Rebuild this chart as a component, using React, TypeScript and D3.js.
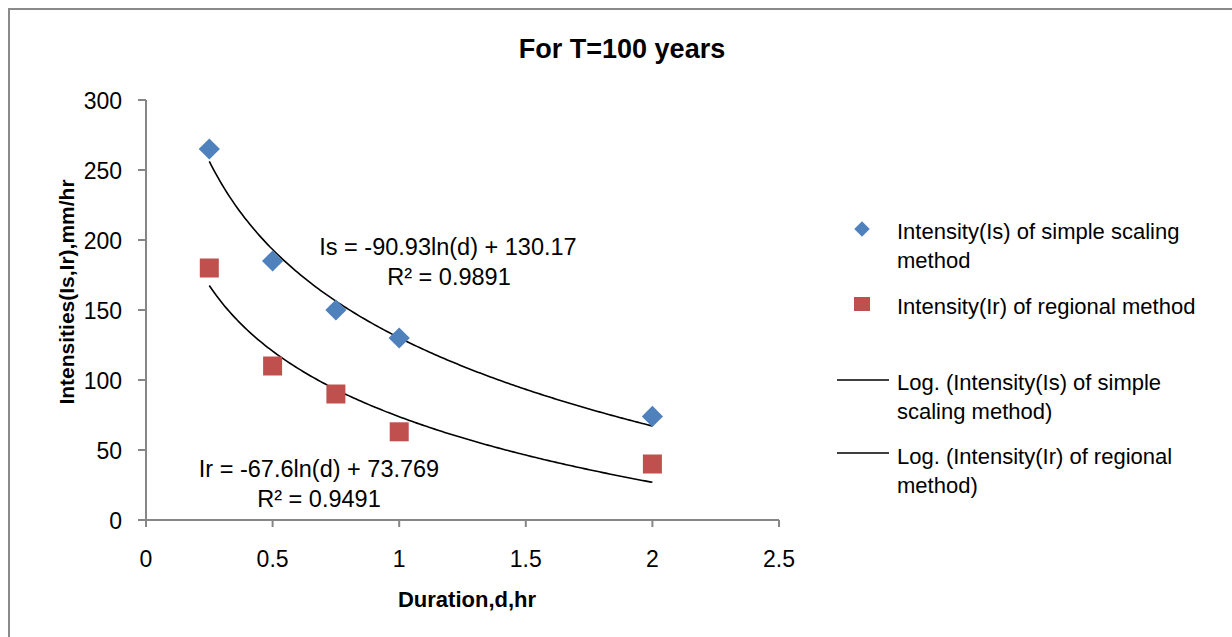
import React from "react";
import * as d3 from "d3";

const durations = [0.25, 0.5, 0.75, 1, 2];
const intensityIs = [265, 185, 150, 130, 74];
const intensityIr = [180, 110, 90, 63, 40];
const fitIs = { a: -90.93, b: 130.17 };
const fitIr = { a: -67.6, b: 73.769 };
const yTicks = [0, 50, 100, 150, 200, 250, 300];
const xTicks = [0, 0.5, 1, 1.5, 2, 2.5];
const xTickLabels = ["0", "0.5", "1", "1.5", "2", "2.5"];

const FONT = "'Liberation Sans', Arial, sans-serif";
const BLUE = "#4F81BD";
const RED = "#C0504D";
const AXIS = "#868686";

export default function App() {
  const x = d3.scaleLinear().domain([0, 2.5]).range([146, 779]);
  const y = d3.scaleLinear().domain([0, 300]).range([520, 100]);

  const fitPts = d3.range(0, 176).map((i) => 0.25 + (i * 1.75) / 175);
  const line = d3
    .line<number>()
    .x((d) => x(d))
    .curve(d3.curveLinear);
  const pathIs = line.y((d) => y(fitIs.a * Math.log(d) + fitIs.b))(fitPts) || "";
  const pathIr = line.y((d) => y(fitIr.a * Math.log(d) + fitIr.b))(fitPts) || "";

  const diamond = d3.symbol().type(d3.symbolSquare).size(15 * 15)();
  const legendX = 897;

  return (
    <svg
      width={1232}
      height={637}
      style={{ position: "absolute", left: 0, top: 0, background: "#fff" }}
      fontFamily={FONT}
    >
      <rect x={0} y={0} width={1232} height={637} fill="#fff" />
      <path d="M9,660 L9,9 L1260,9" fill="none" stroke="#8a8a8a" strokeWidth={2} />

      <text x={622} y={58} textAnchor="middle" fontSize={27} fontWeight="bold">
        For T=100 years
      </text>

      {/* axes */}
      <line x1={146} y1={y(300)} x2={146} y2={y(0)} stroke={AXIS} strokeWidth={2} />
      <line x1={146} y1={y(0)} x2={779} y2={y(0)} stroke={AXIS} strokeWidth={2} />
      {yTicks.map((t) => (
        <g key={"y" + t}>
          <line x1={138} x2={146} y1={y(t)} y2={y(t)} stroke={AXIS} strokeWidth={2} />
          <text x={122} y={y(t) + 9} textAnchor="end" fontSize={23}>
            {t}
          </text>
        </g>
      ))}
      {xTicks.map((t, i) => (
        <g key={"x" + t}>
          <line x1={x(t)} x2={x(t)} y1={520} y2={527} stroke={AXIS} strokeWidth={2} />
          <text x={x(t)} y={567} textAnchor="middle" fontSize={23}>
            {xTickLabels[i]}
          </text>
        </g>
      ))}

      <text x={467} y={607} textAnchor="middle" fontSize={22} fontWeight="bold">
        Duration,d,hr
      </text>
      <text
        transform="translate(74,292) rotate(-90)"
        textAnchor="middle"
        fontSize={21}
        fontWeight="bold"
      >
        Intensities(Is,Ir),mm/hr
      </text>

      {/* trendlines */}
      <path d={pathIs} fill="none" stroke="#000" strokeWidth={1.6} />
      <path d={pathIr} fill="none" stroke="#000" strokeWidth={1.6} />

      {/* markers */}
      {durations.map((d, i) => (
        <path
          key={"is" + i}
          d={diamond || ""}
          transform={`translate(${x(d)},${y(intensityIs[i])}) rotate(45)`}
          fill={BLUE}
        />
      ))}
      {durations.map((d, i) => (
        <rect
          key={"ir" + i}
          x={x(d) - 9.5}
          y={y(intensityIr[i]) - 9.5}
          width={19}
          height={19}
          fill={RED}
        />
      ))}

      {/* equations */}
      <text x={448} y={255} textAnchor="middle" fontSize={23.5}>
        Is = -90.93ln(d) + 130.17
      </text>
      <text x={449} y={285} textAnchor="middle" fontSize={23.5}>
        R² = 0.9891
      </text>
      <text x={319} y={477} textAnchor="middle" fontSize={23.5}>
        Ir = -67.6ln(d) + 73.769
      </text>
      <text x={319} y={507} textAnchor="middle" fontSize={23.5}>
        R² = 0.9491
      </text>

      {/* legend */}
      <path
        d={d3.symbol().type(d3.symbolSquare).size(11 * 11)() || ""}
        transform="translate(862,229) rotate(45)"
        fill={BLUE}
      />
      <text x={legendX} y={239} fontSize={22}>
        Intensity(Is) of simple scaling
      </text>
      <text x={legendX} y={268} fontSize={22}>
        method
      </text>
      <rect x={854} y={297} width={16} height={14} fill={RED} />
      <text x={legendX} y={314} fontSize={22}>
        Intensity(Ir) of regional method
      </text>
      <line x1={837} x2={889} y1={380} y2={380} stroke="#000" strokeWidth={1.6} />
      <text x={legendX} y={390} fontSize={22}>
        Log. (Intensity(Is) of simple
      </text>
      <text x={legendX} y={419} fontSize={22}>
        scaling method)
      </text>
      <line x1={837} x2={889} y1={453} y2={453} stroke="#000" strokeWidth={1.6} />
      <text x={legendX} y={464} fontSize={22}>
        Log. (Intensity(Ir) of regional
      </text>
      <text x={legendX} y={493} fontSize={22}>
        method)
      </text>
    </svg>
  );
}
